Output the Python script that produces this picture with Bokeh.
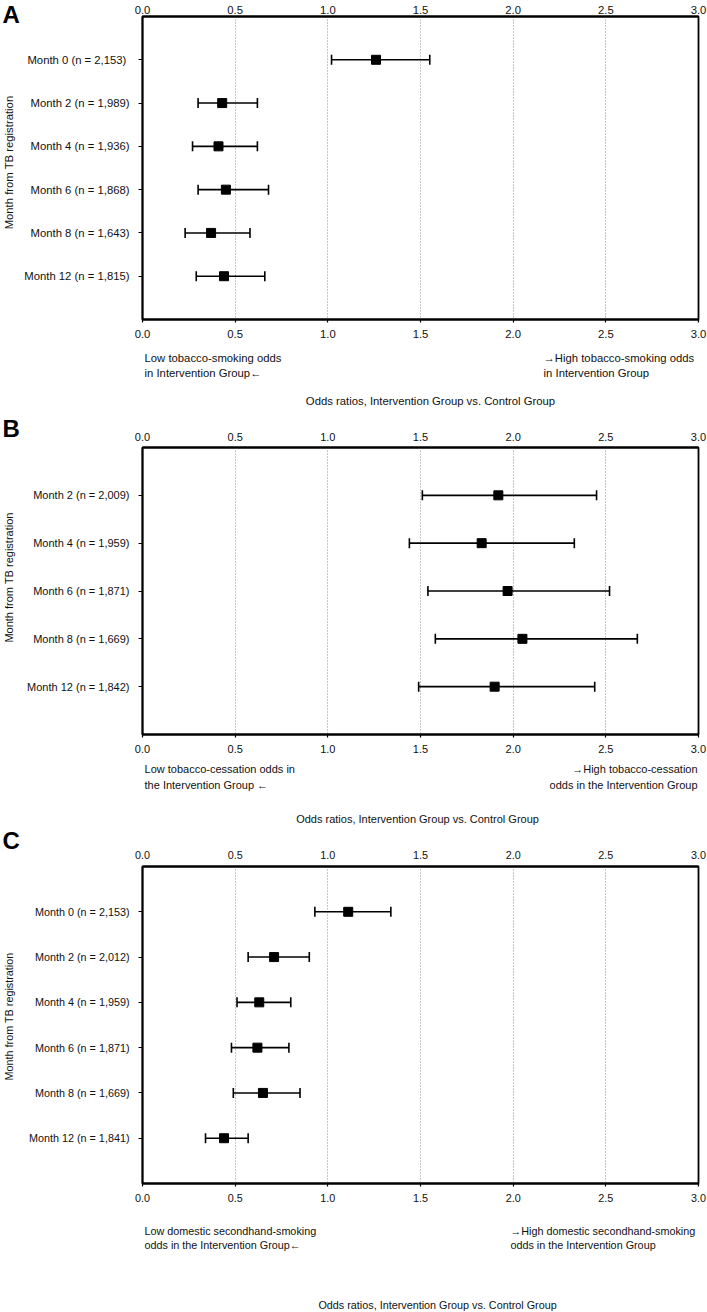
import math
from bokeh.plotting import figure
from bokeh.layouts import column, row
from bokeh.models import (ColumnDataSource, Range1d, LinearAxis, FixedTicker,
                          Whisker, TeeHead)
from bokeh.core.properties import value
from bokeh.embed import file_html
from bokeh.resources import INLINE

FONT = "Liberation Sans"

# ---------------- data ----------------
x_ticks = [0.0, 0.5, 1.0, 1.5, 2.0, 2.5, 3.0]
x_tick_labels = ["0.0", "0.5", "1.0", "1.5", "2.0", "2.5", "3.0"]
grid_ticks = [0.5, 1.0, 1.5, 2.0, 2.5]

a_labels = ["Month 0 (n =  2,153)", "Month 2 (n = 1,989)", "Month 4 (n = 1,936)",
            "Month 6 (n = 1,868)", "Month 8 (n = 1,643)", "Month 12 (n = 1,815)"]
a_or = [1.26, 0.43, 0.41, 0.45, 0.37, 0.44]
a_lo = [1.02, 0.30, 0.27, 0.30, 0.23, 0.29]
a_hi = [1.55, 0.62, 0.62, 0.68, 0.58, 0.66]

b_labels = ["Month 2 (n = 2,009)", "Month 4 (n = 1,959)", "Month 6 (n = 1,871)",
            "Month 8 (n = 1,669)", "Month 12 (n = 1,842)"]
b_or = [1.92, 1.83, 1.97, 2.05, 1.90]
b_lo = [1.51, 1.44, 1.54, 1.58, 1.49]
b_hi = [2.45, 2.33, 2.52, 2.67, 2.44]

c_labels = ["Month 0 (n = 2,153)", "Month 2 (n = 2,012)", "Month 4 (n = 1,959)",
            "Month 6 (n = 1,871)", "Month 8 (n = 1,669)", "Month 12 (n = 1,841)"]
c_or = [1.11, 0.71, 0.63, 0.62, 0.65, 0.44]
c_lo = [0.93, 0.57, 0.51, 0.48, 0.49, 0.34]
c_hi = [1.34, 0.90, 0.80, 0.79, 0.85, 0.57]

y_title = "Month from TB registration"
x_title = "Odds ratios, Intervention Group vs. Control Group"

a_left_text = ["Low tobacco-smoking odds", "in Intervention Group\u2190"]
a_right_text = ["\u2192High tobacco-smoking odds", "in Intervention Group"]
b_left_text = ["Low tobacco-cessation odds in", "the Intervention Group \u2190"]
b_right_text = ["\u2192High tobacco-cessation", "odds in the Intervention Group"]
c_left_text = ["Low domestic secondhand-smoking", "odds in the Intervention Group\u2190"]
c_right_text = ["\u2192High domestic secondhand-smoking", "odds in the Intervention Group"]

COL = "#111111"
SIDE_W = 21
MAIN_W = 707 - SIDE_W
FRAME_LEFT = 142 - SIDE_W
FRAME_RIGHT = 9


def add_text(f, x, y, txt, size, align="left", baseline="middle", style="normal",
             angle=0.0, color=COL):
    f.text(x=[x], y=[y], text=[txt], text_font=value(FONT), text_font_size=value(size),
           text_font_style=style, text_align=align, text_baseline=baseline,
           angle=angle, text_color=color)


def plain_fig(width, height, x_range, left, right):
    f = figure(width=width, height=height, x_range=x_range,
               y_range=Range1d(height, 0), output_backend="svg",
               toolbar_location=None, x_axis_location=None, y_axis_location=None,
               min_border_left=left, min_border_right=right, min_border_top=0,
               min_border_bottom=0)
    f.outline_line_color = None
    f.background_fill_color = "white"
    f.border_fill_color = "white"
    f.xgrid.visible = False
    f.ygrid.visible = False
    return f


def make_panel(letter, labels, ors, los, his, left_text, right_text, st):
    n = len(labels)
    fs = st["fs"]
    ys = list(range(1, n + 1))
    src = ColumnDataSource(dict(y=ys, orr=ors, lo=los, hi=his))
    xr = Range1d(0, 3)
    p = figure(width=MAIN_W, height=st["main_h"], x_range=xr,
               y_range=Range1d(n + 1, 0), output_backend="svg",
               toolbar_location=None, min_border_left=FRAME_LEFT,
               min_border_right=FRAME_RIGHT,
               min_border_top=st["top"], min_border_bottom=st["main_h"] - st["bot"])
    p.background_fill_color = "white"
    p.border_fill_color = "white"
    p.outline_line_color = "black"
    p.outline_line_width = 1.8

    # bottom axis
    xa = p.xaxis[0]
    xa.ticker = FixedTicker(ticks=x_ticks)
    xa.major_label_overrides = {t: l for t, l in zip(x_ticks, x_tick_labels)}
    xa.major_tick_out = 3
    xa.major_tick_in = 0
    xa.minor_tick_out = 0
    xa.minor_tick_in = 0
    xa.major_label_standoff = 7
    xa.axis_line_color = "black"
    xa.axis_line_width = 1.8
    xa.major_tick_line_width = 1.2
    xa.major_label_text_font = FONT
    xa.major_label_text_font_size = fs
    xa.major_label_text_color = COL

    # top axis
    ta = LinearAxis(ticker=FixedTicker(ticks=x_ticks),
                    major_label_overrides={t: l for t, l in zip(x_ticks, x_tick_labels)},
                    major_tick_out=0, major_tick_in=0, minor_tick_out=0, minor_tick_in=0,
                    major_label_standoff=st["top_standoff"], axis_line_color="black",
                    axis_line_width=1.8, major_label_text_font=FONT,
                    major_label_text_font_size=fs, major_label_text_color=COL)
    p.add_layout(ta, "above")

    # left axis
    ya = p.yaxis[0]
    ya.ticker = FixedTicker(ticks=ys)
    ya.major_label_overrides = {y: l for y, l in zip(ys, labels)}
    ya.major_tick_out = 4
    ya.major_tick_in = 0
    ya.minor_tick_out = 0
    ya.minor_tick_in = 0
    ya.major_label_standoff = 9
    ya.axis_line_color = "black"
    ya.axis_line_width = 1.8
    ya.major_tick_line_width = 1.2
    ya.major_label_text_font = FONT
    ya.major_label_text_font_size = fs
    ya.major_label_text_color = COL

    p.ygrid.visible = False
    p.xgrid.ticker = FixedTicker(ticks=grid_ticks)
    p.xgrid.grid_line_color = "#8c8c8c"
    p.xgrid.grid_line_dash = "1 2"
    p.xgrid.grid_line_width = 1

    w = Whisker(base="y", lower="lo", upper="hi", dimension="width", source=src,
                line_color="black", line_width=1.6,
                upper_head=TeeHead(size=10, line_color="black", line_width=1.6),
                lower_head=TeeHead(size=10, line_color="black", line_width=1.6))
    p.add_layout(w)
    p.scatter("orr", "y", source=src, marker="square", size=9, color="black")

    # side strip: panel letter and vertical axis title
    total_h = st["main_h"] + st["strip_h"]
    side = plain_fig(SIDE_W, total_h, Range1d(0, SIDE_W), 0, 0)
    add_text(side, 2, st["letter_y"], letter, "24px", style="bold", color="black")
    add_text(side, 8, st["ytitle_y"], y_title, fs, align="center", angle=math.pi / 2)

    # bottom strip (same x scale as the plot): explanatory texts and x title
    strip = plain_fig(MAIN_W, st["strip_h"], xr, FRAME_LEFT, FRAME_RIGHT)
    for i, line in enumerate(left_text):
        add_text(strip, 0.011, st["line_y"][i], line, fs)
    for i, line in enumerate(right_text):
        add_text(strip, st["right_x"], st["line_y"][i], line, fs, align=st["right_align"])
    add_text(strip, st["xtitle_x"], st["xtitle_y"], x_title, fs, align="center")

    return row(side, column(p, strip, spacing=0), spacing=0)


pa = make_panel("A", a_labels, a_or, a_lo, a_hi, a_left_text, a_right_text,
                dict(fs="11.3px", main_h=345, strip_h=67, top=16, bot=319, top_standoff=3,
                     letter_y=14, ytitle_y=162,
                     line_y=[12, 27], right_x=2.164, right_align="left",
                     xtitle_x=1.554, xtitle_y=55))
pb = make_panel("B", b_labels, b_or, b_lo, b_hi, b_left_text, b_right_text,
                dict(fs="11px", main_h=348, strip_h=66, top=35, bot=322, top_standoff=7,
                     letter_y=16, ytitle_y=165,
                     line_y=[8, 24], right_x=2.995, right_align="right",
                     xtitle_x=1.484, xtitle_y=58))
pc = make_panel("C", c_labels, c_or, c_lo, c_hi, c_left_text, c_right_text,
                dict(fs="10.8px", main_h=383, strip_h=103, top=40, bot=357, top_standoff=8,
                     letter_y=14, ytitle_y=190,
                     line_y=[21, 35], right_x=1.985, right_align="left",
                     xtitle_x=1.592, xtitle_y=95))

layout = column(pa, pb, pc, spacing=0)
open("out.html", "w").write(file_html(layout, INLINE))
